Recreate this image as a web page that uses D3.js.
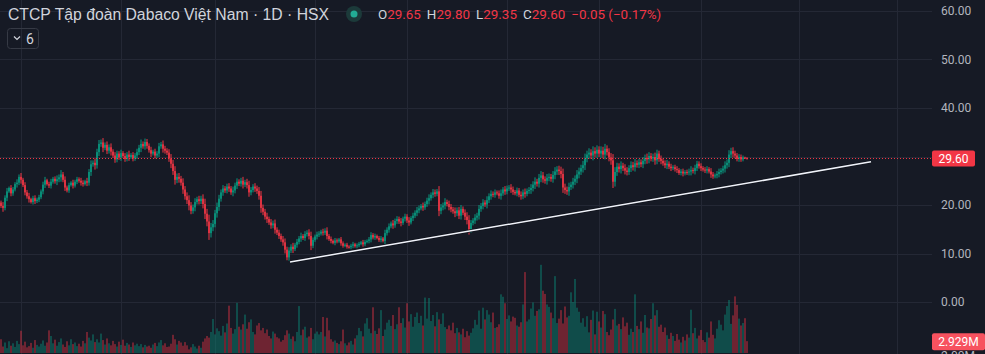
<!DOCTYPE html>
<html>
<head>
<meta charset="utf-8">
<script src="https://cdn.jsdelivr.net/npm/d3@7"></script>
<style>
  body { margin: 0; background: #161a25; }
  svg { display: block; }
</style>
</head>
<body>
<div id="vis"></div>
<script>
// daily closes, oldest first (open of each candle = previous close)
const closes = [
  20.5, 19.8, 19.4, 21.5, 22.8,  23.5, 22.4, 23.2, 24.3, 24.6,
  25.8, 25.2, 24.1, 22.6, 21.8,  21.2, 20.6, 21.4, 20.8, 21.1,
  21.6, 22.8, 24.2, 25.1, 24.3,  24.0, 24.8, 25.4, 24.9, 25.3,
  25.7, 26.3, 25.2, 23.6, 23.0,  24.1, 24.6, 24.0, 24.8, 25.3,
  25.0, 24.6, 24.3, 24.9, 24.6,  26.8, 28.4, 28.7, 28.2, 30.9,
  32.6, 32.9, 31.8, 32.4, 31.2,  31.9, 31.0, 30.2, 29.4, 30.6,
  29.8, 30.7, 30.1, 29.5, 30.4,  29.9, 30.3, 29.6, 30.2, 30.9,
  31.8, 32.6, 32.1, 33.0, 32.2,  31.3, 30.6, 31.0, 30.2, 30.6,
  32.1, 32.5, 31.6, 31.2, 30.8,  29.6, 28.5, 27.0, 25.2, 25.8,
  25.4, 24.6, 23.2, 21.8, 21.0,  19.9, 18.8, 19.5, 20.6, 21.2,
  20.8, 21.3, 20.2, 18.2, 16.6,  14.2, 15.4, 16.1, 18.3, 19.6,
  21.3, 22.6, 23.4, 23.0, 23.8,  23.4, 22.6, 23.0, 24.0, 24.8,
  24.4, 25.0, 24.2, 24.7, 24.1,  22.6, 23.1, 23.8, 23.4, 22.9,
  21.9, 19.4, 18.6, 17.6, 17.1,  16.4, 15.8, 16.2, 14.9, 14.3,
  13.6, 12.9, 12.3, 10.8, 9.2,   10.6, 11.4, 10.9, 11.8, 12.4,
  13.1, 13.6, 13.2, 14.0, 14.3,  13.6, 11.6, 12.8, 13.5, 13.9,
  14.1, 14.5, 14.3, 14.7, 13.6,  13.0, 12.6, 12.2, 12.7, 12.5,
  12.9, 12.1, 11.6, 11.8, 11.4,  11.3, 11.6, 11.9, 11.5, 11.7,
  12.0, 12.3, 11.9, 12.4, 12.6,  12.9, 13.8, 13.3, 13.6, 13.2,
  12.8, 13.1, 12.6, 14.2, 14.9,  15.6, 16.2, 15.8, 16.7, 17.1,
  16.6, 16.3, 17.2, 17.6, 16.8,  16.4, 17.3, 17.8, 18.4, 18.9,
  19.3, 19.8, 19.5, 20.2, 20.9,  21.4, 22.1, 22.6, 22.3, 22.8,
  18.8, 19.5, 19.9, 20.6, 20.2,  19.6, 19.1, 18.7, 18.3, 18.9,
  17.8, 19.2, 18.4, 17.6, 16.9,  14.9, 16.3, 16.8, 17.4, 17.8,
  19.2, 19.8, 20.5, 20.1, 21.0,  21.8, 22.3, 22.1, 22.6, 22.4,
  21.9, 22.4, 23.2, 22.8, 23.4,  23.6, 23.2, 22.7, 22.4, 23.0,
  22.1, 21.8, 22.6, 22.3, 22.9,  23.1, 23.5, 24.2, 24.8, 24.4,
  25.6, 26.1, 25.3, 25.0, 25.6,  25.8, 25.4, 26.2, 26.9, 27.3,
  27.0, 26.4, 23.6, 23.1, 22.8,  23.7, 24.2, 24.8, 25.4, 26.3,
  26.9, 27.6, 28.2, 29.6, 30.4,  30.8, 30.2, 31.1, 30.6, 31.4,
  30.6, 31.2, 30.4, 31.6, 30.9,  29.8, 29.2, 24.8, 26.8, 27.9,
  27.4, 28.1, 27.6, 27.1, 26.8,  27.6, 28.2, 27.8, 28.6, 28.3,
  28.8, 28.4, 29.1, 29.7, 29.4,  30.1, 29.6, 29.9, 29.2, 30.6,
  29.5, 29.1, 28.6, 28.2, 28.5,  27.9, 27.6, 27.8, 27.4, 27.2,
  26.6, 26.9, 26.5, 26.8, 26.7,  26.9, 27.2, 27.0, 27.6, 28.5,
  28.0, 27.6, 27.3, 27.1, 27.4,  26.9, 26.3, 25.9, 26.1, 26.4,
  26.8, 27.1, 27.5, 28.2, 28.7,  30.4, 31.1, 30.6, 30.2, 29.5,
  29.9, 29.4, 29.8, 29.65, 29.60
];

// intraday excursion beyond the body, price units (wick length each side)
const wicks = [
  0.6, 0.4, 0.8, 0.5, 0.7,  0.3, 0.6, 0.5, 0.4, 0.7,
  0.5, 0.8, 0.4, 0.6, 0.5,  0.7, 0.3, 0.5, 0.6, 0.4,
  0.5, 0.4, 0.6, 0.7, 0.3,  0.5, 0.6, 0.4, 0.5, 0.8,
  0.6, 0.9, 0.5, 0.7, 0.4,  0.5, 0.3, 0.6, 0.4, 0.5,
  0.4, 0.6, 0.5, 0.3, 0.7,  0.6, 0.8, 0.5, 0.9, 0.7,
  0.8, 0.6, 0.9, 0.5, 0.7,  0.6, 0.8, 0.5, 0.7, 0.6,
  0.5, 0.7, 0.4, 0.6, 0.5,  0.8, 0.4, 0.6, 0.5, 0.7,
  0.6, 0.9, 0.5, 0.7, 0.6,  0.5, 0.7, 0.4, 0.6, 0.5,
  0.7, 0.5, 0.8, 0.6, 0.5,  0.7, 0.9, 0.8, 1.0, 0.7,
  0.8, 0.6, 0.9, 0.7, 0.8,  1.0, 0.7, 0.6, 0.8, 0.5,
  0.7, 0.6, 0.9, 1.1, 1.0,  1.4, 0.9, 0.8, 0.7, 0.9,
  0.8, 0.6, 0.7, 0.5, 0.6,  0.7, 0.5, 0.8, 0.6, 0.7,
  0.5, 0.6, 0.8, 0.5, 0.7,  0.9, 0.6, 0.5, 0.7, 0.6,
  0.8, 1.0, 0.7, 0.6, 0.8,  0.5, 0.7, 0.6, 0.8, 0.5,
  0.6, 0.5, 0.7, 0.8, 0.6,  0.7, 0.5, 0.8, 0.4, 0.6,
  0.5, 0.7, 0.4, 0.6, 0.5,  0.7, 0.9, 0.5, 0.4, 0.6,
  0.5, 0.4, 0.6, 0.5, 0.7,  0.4, 0.5, 0.3, 0.5, 0.4,
  0.3, 0.5, 0.4, 0.3, 0.4,  0.3, 0.4, 0.5, 0.3, 0.4,
  0.4, 0.3, 0.5, 0.4, 0.3,  0.5, 0.6, 0.4, 0.5, 0.3,
  0.4, 0.5, 0.3, 0.7, 0.5,  0.6, 0.4, 0.7, 0.5, 0.6,
  0.5, 0.7, 0.4, 0.6, 0.5,  0.7, 0.4, 0.6, 0.5, 0.7,
  0.6, 0.4, 0.7, 0.5, 0.6,  0.8, 0.5, 0.7, 0.6, 0.5,
  1.1, 0.7, 0.6, 0.8, 0.5,  0.7, 0.6, 0.5, 0.8, 0.6,
  0.7, 0.8, 0.5, 0.7, 0.9,  1.0, 0.6, 0.5, 0.7, 0.6,
  0.8, 0.6, 0.7, 0.5, 0.8,  0.6, 0.7, 0.5, 0.6, 0.4,
  0.6, 0.8, 0.5, 0.7, 0.6,  0.5, 0.7, 0.6, 0.4, 0.6,
  0.5, 0.7, 0.6, 0.8, 0.5,  0.6, 0.8, 0.7, 0.9, 0.6,
  0.8, 0.9, 0.7, 0.6, 0.8,  0.7, 0.6, 0.8, 0.9, 0.7,
  0.8, 0.9, 1.1, 0.8, 0.7,  0.9, 0.6, 0.8, 0.7, 0.9,
  0.8, 0.7, 0.9, 1.0, 0.8,  0.9, 0.7, 1.0, 0.8, 0.9,
  0.7, 0.9, 0.8, 1.0, 0.7,  0.8, 0.9, 1.3, 1.0, 0.8,
  0.7, 0.9, 0.6, 0.8, 0.7,  0.6, 0.8, 0.7, 0.9, 0.6,
  0.7, 0.6, 0.8, 0.7, 0.9,  0.8, 0.6, 0.7, 0.9, 0.8,
  0.6, 0.7, 0.5, 0.6, 0.8,  0.5, 0.6, 0.4, 0.5, 0.6,
  0.4, 0.5, 0.6, 0.4, 0.5,  0.6, 0.8, 0.5, 0.7, 0.6,
  0.5, 0.6, 0.4, 0.5, 0.6,  0.4, 0.7, 0.5, 0.4, 0.6,
  0.7, 0.5, 0.6, 0.8, 0.7,  0.9, 0.7, 0.8, 0.6, 0.5,
  0.6, 0.5, 0.4, 0.15, 0.2
];

// daily volume, millions of shares
const volumes = [
  2.1, 3.4, 1.6, 2.6, 1.2,  2.9, 1.8, 2.4, 1.5, 3.0,
  2.2, 5.5, 1.9, 2.8, 1.4,  1.7, 2.5, 1.3, 3.2, 2.0,
  1.6, 2.3, 3.1, 1.8, 2.6,  5.6, 4.2, 2.4, 3.3, 1.8,
  2.7, 3.6, 2.1, 1.5, 2.9,  1.9, 3.4, 2.2, 2.6, 1.7,
  2.3, 1.6, 3.0, 2.4, 5.2,  3.8, 3.1, 4.6, 2.7, 3.4,
  2.6, 4.8, 3.2, 2.1, 3.6,  2.4, 1.9, 3.0, 2.2, 1.6,
  2.8, 2.0, 3.3, 1.8, 2.5,  2.1, 1.5, 2.6, 1.9, 2.3,
  1.7, 2.2, 1.4, 2.0, 1.6,  1.8, 1.3, 2.1, 2.5, 1.7,
  2.6, 3.2, 1.9, 2.4, 1.5,  1.6, 2.3, 4.5, 3.4, 2.1,
  3.0, 2.6, 1.8, 2.7, 1.9,  0.9, 1.4, 2.2, 1.6, 1.1,
  1.8, 1.3, 2.8, 3.6, 4.2,  3.8, 5.2, 8.4, 4.6, 6.1,
  5.4, 4.3, 6.7, 5.1, 7.3,  11.7, 6.2, 4.8, 5.9, 12.4,
  6.5, 5.8, 7.1, 9.5, 6.0,  7.6, 8.3, 5.2, 4.6, 6.8,
  7.4, 5.6, 6.2, 4.9, 5.8,  4.2, 3.6, 5.3, 4.8, 3.9,
  3.6, 2.8, 3.2, 4.4, 5.6,  4.8, 3.5, 4.1, 2.9, 5.2,
  11.6, 4.4, 5.8, 6.5, 3.8,  4.1, 6.2, 3.4, 4.8, 5.3,
  4.6, 5.2, 8.9, 4.1, 8.7,  5.6, 3.4, 2.8, 3.1, 2.5,
  2.2, 2.9, 5.8, 2.4, 1.9,  2.6, 3.0, 2.1, 3.6, 4.4,
  6.2, 5.4, 4.1, 7.3, 8.6,  6.0, 4.9, 11.3, 5.5, 4.7,
  6.1, 10.6, 4.2, 5.8, 7.5,  8.2, 6.7, 9.4, 5.9, 7.1,
  11.3, 7.4, 8.6, 6.3, 12.3,  7.8, 9.6, 6.5, 8.9, 10.0,
  7.4, 9.2, 6.8, 13.7, 8.5,  13.6, 7.9, 9.4, 6.6, 10.1,
  8.3, 7.2, 9.8, 6.4, 5.9,  6.8, 5.6, 7.5, 4.9, 6.2,
  5.1, 4.6, 6.0, 3.9, 5.4,  4.3, 5.0, 6.1, 8.2, 7.0,
  10.5, 6.0, 11.2, 8.3, 10.6,  9.5, 7.6, 10.0, 6.2, 6.4,
  7.1, 14.5, 13.9, 12.3, 8.4,  9.3, 7.8, 9.0, 8.7, 6.8,
  6.5, 7.6, 12.0, 20.0, 7.8,  8.3, 11.0, 12.5, 9.2, 10.4,
  10.8, 21.8, 15.4, 14.6, 12.0,  11.4, 10.0, 8.6, 19.0, 7.4,
  8.5, 10.6, 7.3, 11.5, 8.8,  9.2, 15.0, 12.6, 18.3, 11.2,
  10.2, 7.5, 8.6, 6.5, 9.1,  5.1, 8.2, 10.5, 4.6, 10.2,
  7.8, 6.3, 10.4, 9.6, 5.2,  4.4, 5.8, 8.3, 10.9, 6.8,
  7.2, 5.9, 8.8, 6.6, 7.5,  4.5, 6.0, 5.2, 14.5, 6.7,
  5.9, 7.8, 5.0, 9.4, 6.3,  6.1, 8.4, 12.3, 9.3, 10.6,
  6.5, 7.0, 5.2, 6.3, 4.4,  3.5, 5.0, 4.2, 3.0, 4.7,
  3.3, 2.6, 4.0, 3.1, 4.6,  3.8, 10.7, 4.9, 6.2, 3.6,
  4.3, 5.7, 3.2, 2.7, 5.1,  3.8, 7.8, 4.5, 3.6, 6.0,
  8.1, 7.0, 5.6, 9.5, 11.6,  13.1, 7.2, 9.3, 14.0, 11.9,
  8.5, 6.8, 7.4, 8.6, 2.929
];

const priceTicks = [0, 10, 20, 30, 40, 50, 60];
const monthStarts = [11, 61, 108, 158, 204, 254, 300, 351, 400, 449]; // candle index of each month
const trendLine = [[145.5, 8.25], [436, 28.9]];  // [candle index, price]
const lastBar = { o: 29.65, h: 29.80, l: 29.35, c: 29.60, chg: -0.05, pct: -0.17 };

const width = 985, height = 354;
const plotRight = 932;
const up = '#089981', down = '#f23645';

const svg = d3.select('#vis').append('svg')
  .attr('width', width)
  .attr('height', height)
  .style('background', '#161a25')
  .style('font-family', 'Roboto, "Liberation Sans", sans-serif');

const x = d3.scaleLinear().domain([0, closes.length - 1]).range([-1, 747]);
const y = d3.scaleLinear().domain([0, 60]).range([302, 11]);
const yVol = d3.scaleLinear().domain([0, 22]).range([353, 264]);

// grid
svg.append('g').selectAll('line').data(priceTicks).join('line')
  .attr('x1', 0).attr('x2', plotRight)
  .attr('y1', d => Math.round(y(d)) + 0.5).attr('y2', d => Math.round(y(d)) + 0.5)
  .attr('stroke', '#242835');
svg.append('g').selectAll('line').data(monthStarts).join('line')
  .attr('x1', d => Math.round(x(d)) + 0.5).attr('x2', d => Math.round(x(d)) + 0.5)
  .attr('y1', 0).attr('y2', height)
  .attr('stroke', '#242835');

const opens = closes.map((c, i) => i === 0 ? c : closes[i - 1]);
const bw = 1.6;

// volume
svg.append('g').selectAll('rect').data(volumes).join('rect')
  .attr('x', (d, i) => x(i) - bw / 2)
  .attr('width', bw)
  .attr('y', d => yVol(d))
  .attr('height', d => yVol(0) - yVol(d))
  .attr('fill', (d, i) => closes[i] >= opens[i] ? up : down)
  .attr('fill-opacity', 0.5);

// candles: wick then body
const col = (d, i) => d >= opens[i] ? up : down;
svg.append('g').selectAll('line').data(closes).join('line')
  .attr('x1', (d, i) => x(i)).attr('x2', (d, i) => x(i))
  .attr('y1', (d, i) => y(Math.max(d, opens[i]) + wicks[i]))
  .attr('y2', (d, i) => y(Math.min(d, opens[i]) - wicks[i]))
  .attr('stroke', col)
  .attr('stroke-width', 1);
svg.append('g').selectAll('rect').data(closes).join('rect')
  .attr('x', (d, i) => x(i) - bw / 2)
  .attr('width', bw)
  .attr('y', (d, i) => y(Math.max(d, opens[i])))
  .attr('height', (d, i) => Math.max(1, Math.abs(y(d) - y(opens[i]))))
  .attr('fill', col);

// last price line
svg.append('line')
  .attr('x1', 0).attr('x2', plotRight)
  .attr('y1', Math.round(y(lastBar.c)) + 0.5).attr('y2', Math.round(y(lastBar.c)) + 0.5)
  .attr('stroke', down)
  .attr('stroke-dasharray', '1,2');

// trend line drawing
svg.append('line')
  .attr('x1', x(trendLine[0][0])).attr('y1', y(trendLine[0][1]))
  .attr('x2', x(trendLine[1][0])).attr('y2', y(trendLine[1][1]))
  .attr('stroke', '#10131c').attr('stroke-width', 3);
svg.append('line')
  .attr('x1', x(trendLine[0][0])).attr('y1', y(trendLine[0][1]))
  .attr('x2', x(trendLine[1][0])).attr('y2', y(trendLine[1][1]))
  .attr('stroke', '#f0f3fa').attr('stroke-width', 1.5);

// price axis
const axis = svg.append('g')
  .attr('transform', 'translate(' + plotRight + ',0)')
  .call(d3.axisRight(y)
    .tickValues(priceTicks.filter(d => d !== 30))
    .tickFormat(d3.format('.2f'))
    .tickSize(0)
    .tickPadding(9));
axis.select('.domain').remove();
axis.selectAll('text')
  .attr('fill', '#b2b5be')
  .attr('font-size', 12)
  .attr('font-family', 'Roboto, sans-serif');

// last price label
svg.append('rect')
  .attr('x', plotRight).attr('y', y(lastBar.c) - 8)
  .attr('width', 43).attr('height', 16).attr('rx', 2)
  .attr('fill', down);
svg.append('text')
  .attr('x', plotRight + 21.5).attr('y', y(lastBar.c) + 4.5)
  .attr('text-anchor', 'middle')
  .attr('fill', '#fff').attr('font-size', 12)
  .text(lastBar.c.toFixed(2));

// volume scale label peeking in at the bottom edge
svg.append('text')
  .attr('x', plotRight + 9).attr('y', 360)
  .attr('fill', '#b2b5be').attr('font-size', 12)
  .text('2.00M');
const lastVol = volumes[volumes.length - 1];
svg.append('rect')
  .attr('x', plotRight).attr('y', yVol(lastVol) - 8)
  .attr('width', 53).attr('height', 17).attr('rx', 2)
  .attr('fill', '#f7525f');
svg.append('text')
  .attr('x', plotRight + 26.5).attr('y', yVol(lastVol) + 4.5)
  .attr('text-anchor', 'middle')
  .attr('fill', '#fff').attr('font-size', 12)
  .text(lastVol.toFixed(3) + 'M');

// header
svg.append('text')
  .attr('x', 8).attr('y', 20)
  .attr('fill', '#d1d4dc')
  .attr('font-size', 16)
  .attr('font-family', '"Liberation Sans", Arial, sans-serif')
  .attr('textLength', 321)
  .attr('lengthAdjust', 'spacingAndGlyphs')
  .text('CTCP Tập đoàn Dabaco Việt Nam · 1D · HSX');

svg.append('circle').attr('cx', 354).attr('cy', 14).attr('r', 8).attr('fill', '#1c3a3a');
svg.append('circle').attr('cx', 354).attr('cy', 14).attr('r', 3.5).attr('fill', '#22ab94');

const fmt = d3.format('.2f');
const ohlc = svg.append('text')
  .attr('x', 378).attr('y', 19)
  .attr('font-size', 13.4);
[['O', lastBar.o], ['H', lastBar.h], ['L', lastBar.l], ['C', lastBar.c]].forEach((p, k) => {
  ohlc.append('tspan').attr('dx', k === 0 ? 0 : 6).attr('fill', '#d1d4dc').text(p[0]);
  ohlc.append('tspan').attr('fill', down).text(fmt(p[1]));
});
ohlc.append('tspan').attr('dx', 6).attr('fill', down)
  .text(fmt(lastBar.chg).replace('-', '\u2212') + ' (' + fmt(lastBar.pct).replace('-', '\u2212') + '%)');

// collapse button
svg.append('rect')
  .attr('x', 7.5).attr('y', 28.5).attr('width', 31).attr('height', 20).attr('rx', 3)
  .attr('fill', 'none').attr('stroke', '#363a45');
svg.append('path')
  .attr('d', 'M14,36.5 L17,39.5 L20,36.5')
  .attr('fill', 'none').attr('stroke', '#d1d4dc').attr('stroke-width', 1.2);
svg.append('text')
  .attr('x', 26).attr('y', 44)
  .attr('fill', '#d1d4dc').attr('font-size', 14)
  .text('6');
</script>
</body>
</html>
